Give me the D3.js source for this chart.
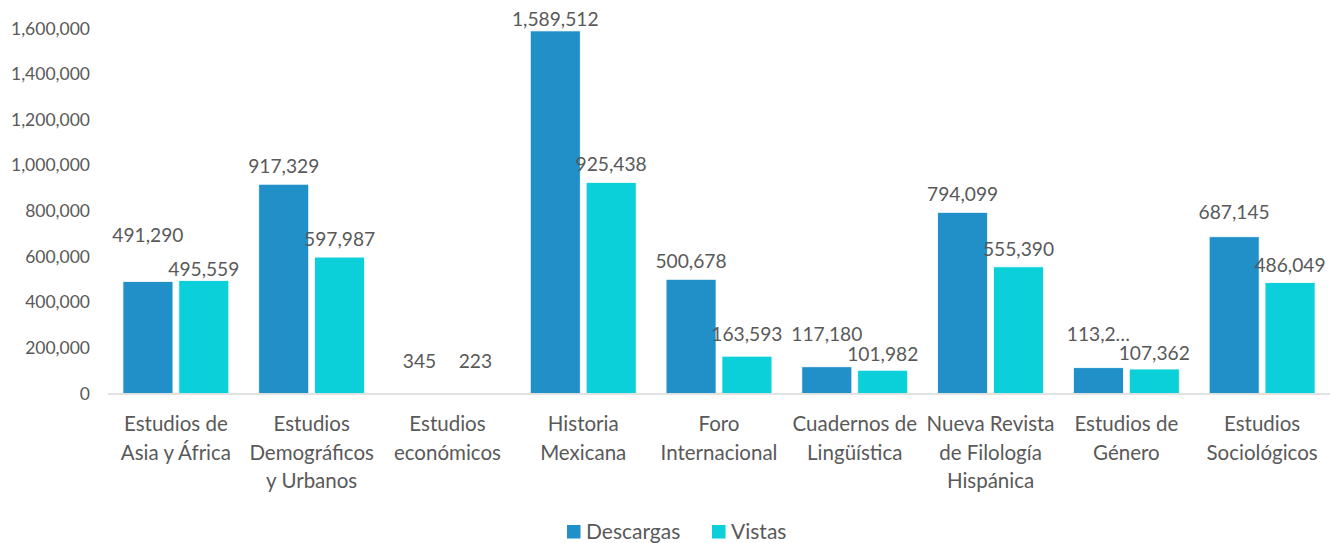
<!DOCTYPE html>
<meta charset="UTF-8">
<style>
    body { margin: 0; background: #fff; }
    text { font-family: Lato, "Open Sans", sans-serif; fill: #595959; }
    .tick text { font-size: 17.5px; }
</style>
<body>
<div id="chart"></div>
<script src="https://d3js.org/d3.v7.min.js"></script>
<script>
    // ---- data ----
    var categories = [
        "Estudios de|Asia y África",
        "Estudios|Demográficos|y Urbanos",
        "Estudios|económicos",
        "Historia|Mexicana",
        "Foro|Internacional",
        "Cuadernos de|Lingüística",
        "Nueva Revista|de Filología|Hispánica",
        "Estudios de|Género",
        "Estudios|Sociológicos"
    ];
    var seriesNames = ["Descargas", "Vistas"];
    var descargas = [491290, 917329, 345, 1589512, 500678, 117180, 794099, 113200, 687145];
    var vistas = [495559, 597987, 223, 925438, 163593, 101982, 555390, 107362, 486049];
    var yTicks = [0, 200000, 400000, 600000, 800000, 1000000, 1200000, 1400000, 1600000];
    var colors = ["#2190c9", "#0bd0d9"];

    // label placement tweaks (gap between bar top and label baseline), like the hand-moved labels
    var labelGap = 11;
    var labelTweaks = {
        "0-0": {gap: 39}, "1-0": {gap: 4}, "0-3": {gap: 5}, "1-4": {gap: 15},
        "0-5": {gap: 26}, "1-5": {gap: 9}, "0-7": {gap: 27, text: "113,2…"},
        "1-7": {gap: 9}, "0-8": {gap: 18}, "0-2": {gap: 25}, "1-2": {gap: 25}
    };

    var W = 1339, H = 543;
    var margin = {top: 28.5, right: 9, bottom: 149.5, left: 108};
    var width = W - margin.left - margin.right,
        height = H - margin.top - margin.bottom;

    var svg = d3.select("#chart").append("svg")
        .attr("width", W)
        .attr("height", H)
        .append("g")
        .attr("transform", "translate(" + margin.left + "," + margin.top + ")");

    var x0 = d3.scaleBand().domain(d3.range(categories.length))
        .range([0, width]).paddingInner(0.22).paddingOuter(0.11);
    var x1 = d3.scaleBand().domain([0, 1]).range([0, x0.bandwidth()]).paddingInner(0.105);
    var y = d3.scaleLinear().domain([0, 1600000]).range([height, 0]);

    // y axis (labels only)
    var yAxis = svg.append("g")
        .call(d3.axisLeft(y).tickValues(yTicks).tickSize(0).tickPadding(18)
            .tickFormat(d3.format(",")));
    yAxis.select(".domain").remove();

    var data = [descargas, vistas];

    // bars
    data.forEach(function (vals, s) {
        svg.append("g").selectAll("rect")
            .data(vals)
            .join("rect")
            .attr("x", function (d, i) { return x0(i) + x1(s); })
            .attr("y", function (d) { return y(d); })
            .attr("width", x1.bandwidth())
            .attr("height", function (d) { return height - y(d); })
            .attr("fill", colors[s])
            .attr("stroke", "#fff")
            .attr("stroke-width", 0.8);
    });

    // x axis line
    svg.append("line")
        .attr("x1", 0).attr("x2", width)
        .attr("y1", height + 0.5).attr("y2", height + 0.5)
        .attr("stroke", "#d9d9d9").attr("stroke-width", 1.5);

    // data labels
    data.forEach(function (vals, s) {
        svg.append("g").selectAll("text")
            .data(vals)
            .join("text")
            .attr("text-anchor", "middle")
            .style("font-size", "19.2px")
            .attr("x", function (d, i) { return x0(i) + x1(s) + x1.bandwidth() / 2; })
            .attr("y", function (d, i) {
                var t = labelTweaks[s + "-" + i];
                return y(d) - (t && t.gap != null ? t.gap : labelGap);
            })
            .text(function (d, i) {
                var t = labelTweaks[s + "-" + i];
                return t && t.text ? t.text : d3.format(",")(d);
            });
    });

    // category labels
    var cat = svg.append("g").selectAll("text")
        .data(categories)
        .join("text")
        .attr("text-anchor", "middle")
        .style("font-size", "20.5px")
        .attr("transform", function (d, i) {
            return "translate(" + (x0(i) + x0.bandwidth() / 2) + "," + (height + 37.5) + ")";
        });
    cat.selectAll("tspan")
        .data(function (d) { return d.split("|"); })
        .join("tspan")
        .attr("x", 0)
        .attr("dy", function (d, i) { return i === 0 ? 0 : 28.5; })
        .text(function (d) { return d; });

    // legend
    var legend = d3.select("svg").append("g").attr("transform", "translate(567,525)");
    var legendX = [0, 145];
    seriesNames.forEach(function (name, s) {
        var g = legend.append("g").attr("transform", "translate(" + legendX[s] + ",0)");
        g.append("rect").attr("width", 13.5).attr("height", 13.5).attr("fill", colors[s]);
        g.append("text").attr("x", 19).attr("y", 13.5).style("font-size", "21px").text(name);
    });
</script>
</body>
